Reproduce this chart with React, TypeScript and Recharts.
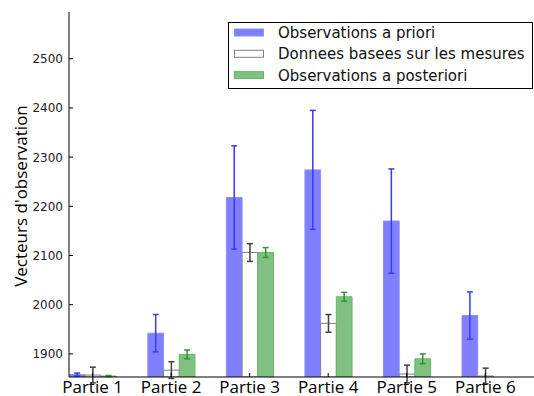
import React from 'react';
import { BarChart, Bar, XAxis, YAxis, ErrorBar, Legend } from 'recharts';

const categories = ['Partie 1', 'Partie 2', 'Partie 3', 'Partie 4', 'Partie 5', 'Partie 6'];
const prioriValues = [1858, 1942, 2218, 2274, 2170, 1978];
const prioriErrors = [3, 38, 105, 121, 106, 48];
const mesuresValues = [1857, 1867, 2106, 1962, 1859, 1855];
const mesuresErrors = [16, 17, 18, 18, 18, 16];
const posterioriValues: (number | null)[] = [1855, 1899, 2106, 2016, 1890, null];
const posterioriErrors: (number | null)[] = [1, 9, 10, 9, 10, null];
const yTicks = [1900, 2000, 2100, 2200, 2300, 2400, 2500];

const data = categories.map((c, i) => ({
  x: i,
  name: c,
  priori: prioriValues[i],
  prioriErr: prioriErrors[i],
  mesures: mesuresValues[i],
  mesuresErr: mesuresErrors[i],
  posteriori: posterioriValues[i],
  posterioriErr: posterioriErrors[i],
}));

const series = [
  { key: 'priori', name: 'Observations a priori', fill: '#8080ff', stroke: '#8c8cff', err: '#3a3aff' },
  { key: 'mesures', name: 'Donnees basees sur les mesures', fill: '#ffffff', stroke: '#808080', err: '#404040' },
  { key: 'posteriori', name: 'Observations a posteriori', fill: '#80c080', stroke: '#6ab46a', err: '#2e962e' },
];

const BottomTick = (props: any) => {
  const { x, y, payload } = props;
  return (
    <g>
      <line x1={x} x2={x} y1={y} y2={y - 4} stroke="#000" strokeWidth={1} />
      <text x={x} y={y + 15.5} textAnchor="middle" fontFamily="'Open Sans', sans-serif" fontSize={17} fill="#000">
        {categories[payload.value]}
      </text>
    </g>
  );
};

const TopTick = (props: any) => {
  const { x, y } = props;
  return <line x1={x} x2={x} y1={y} y2={y + 4} stroke="#000" strokeWidth={1} />;
};

const LeftTick = (props: any) => {
  const { x, y, payload } = props;
  return (
    <g>
      <line x1={x} x2={x + 4} y1={y} y2={y} stroke="#000" strokeWidth={1} />
      <text x={x - 6} y={y + 4.5} textAnchor="end" fontFamily="'DejaVu Sans', sans-serif" fontSize={12} fill="#222">
        {payload.value}
      </text>
    </g>
  );
};

const YLabel = () => (
  <text
    x={27}
    y={196}
    transform="rotate(-90 27 196)"
    textAnchor="middle"
    fontFamily="'Open Sans', sans-serif"
    fontSize={17}
    fill="#000"
  >
    Vecteurs d'observation
  </text>
);

const LegendContent = () => (
  <svg width={306} height={68} style={{ display: 'block' }}>
    <rect x={0.5} y={0.5} width={304} height={66} fill="#fff" stroke="#000" strokeWidth={1} />
    {series.map((s, i) => {
      const cy = 10.5 + i * 21.3;
      return (
        <g key={s.key}>
          <rect x={6.5} y={cy - 3.5} width={29} height={7} fill={s.fill} stroke={s.stroke} strokeWidth={1} />
          <text x={50} y={cy + 5.5} fontFamily="'DejaVu Sans', sans-serif" fontSize={15} fill="#111">
            {s.name}
          </text>
        </g>
      );
    })}
  </svg>
);

export default function App() {
  return (
    <div style={{ position: 'absolute', left: 0, top: 0, width: 534, height: 396, background: '#fff' }}>
      <BarChart
        width={534}
        height={396}
        data={data}
        margin={{ top: 12, right: 0, left: 0, bottom: 0 }}
        barGap={0}
      >
        <XAxis
          dataKey="x"
          type="number"
          domain={[-0.3, 5.62]}
          allowDataOverflow
          ticks={[0, 1, 2, 3, 4, 5]}
          interval={0}
          height={19}
          tickSize={0}
          tickMargin={0}
          tickLine={false}
          tick={<BottomTick />}
          axisLine={{ stroke: '#000', strokeWidth: 1 }}
        />
        <XAxis
          xAxisId="top"
          dataKey="x"
          type="number"
          orientation="top"
          domain={[-0.3, 5.62]}
          allowDataOverflow
          ticks={[0, 1, 2, 3, 4, 5]}
          interval={0}
          height={0}
          tickSize={0}
          tickMargin={0}
          tickLine={false}
          tick={<TopTick />}
          axisLine={{ stroke: '#000', strokeWidth: 1 }}
        />
        <YAxis
          type="number"
          domain={[1853, 2595]}
          allowDataOverflow
          ticks={yTicks}
          interval={0}
          width={69}
          tickSize={0}
          tickMargin={0}
          tickLine={false}
          tick={<LeftTick />}
          axisLine={{ stroke: '#000', strokeWidth: 1 }}
          label={<YLabel />}
        />
        <Legend
          layout="vertical"
          align="center"
          verticalAlign="middle"
          content={<LegendContent />}
          wrapperStyle={{ top: 22, left: 228, width: 306, height: 68 }}
        />
        {series.map((s) => (
          <Bar
            key={s.key}
            dataKey={s.key}
            name={s.name}
            fill={s.fill}
            stroke={s.stroke}
            strokeWidth={1}
            barSize={15.7}
            isAnimationActive={false}
          >
            <ErrorBar dataKey={`${s.key}Err`} width={3} stroke={s.err} strokeWidth={1.5} direction="y" />
          </Bar>
        ))}
      </BarChart>
    </div>
  );
}
